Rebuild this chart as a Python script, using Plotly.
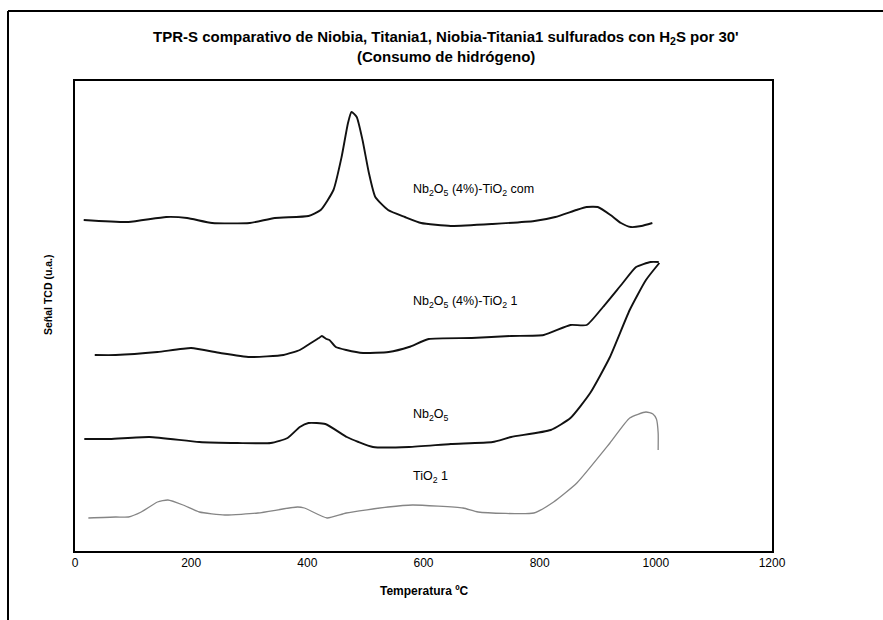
import plotly.graph_objects as go

# Temperature (°C) and TCD signal (a.u.) for each sulfided sample
com_T = [15, 92, 157, 193, 236, 301, 344, 402, 423, 445, 459, 470, 476, 485, 495, 506, 517, 539,
         568, 596, 647, 719, 791, 827, 863, 881, 900, 922, 940, 957, 975, 994]
com_S = [331, 329, 334, 333, 328, 328, 333, 335, 341, 361, 394, 428, 439, 434, 411, 378, 354, 341,
         334, 328, 325, 327, 330, 334, 341, 344, 344, 336, 328, 324, 325, 328]

nt1_T = [34, 70, 142, 200, 250, 301, 359, 387, 409, 420, 425, 433, 438, 449, 467, 496, 540, 575,
         609, 683, 751, 807, 853, 881, 909, 943, 966, 991, 1005]
nt1_S = [196, 196, 199, 203, 198, 194, 196, 201, 209, 213, 215, 212, 211, 204, 201, 198, 199, 204,
         212, 213, 215, 216, 226, 226, 244, 268, 284, 289, 289]

nb_T = [16, 60, 128, 214, 280, 337, 366, 387, 402, 431, 468, 488, 513, 575, 647, 719, 751, 819,
        853, 887, 921, 955, 983, 1006]
nb_S = [112, 112, 114, 109, 108, 108, 113, 124, 128, 127, 114, 109, 104, 104, 107, 109, 114, 121,
        133, 158, 194, 241, 271, 288]

ti_T = [23, 70, 92, 114, 142, 160, 186, 214, 258, 315, 383, 395, 434, 467, 539, 581, 668, 694,
        790, 824, 864, 921, 955, 983, 995, 1001, 1004, 1004]
ti_S = [33, 34, 34, 39, 49, 51, 46, 39, 36, 38, 44, 43, 33, 38, 44, 46, 43, 39,
        38, 49, 68, 108, 133, 139, 137, 132, 118, 101]

x_ticks = [0, 200, 400, 600, 800, 1000, 1200]

# Curve labels: text, temperature where the text starts, signal level
labels = [
    ("Nb<sub>2</sub>O<sub>5</sub> (4%)-TiO<sub>2</sub> com", 578, 361),
    ("Nb<sub>2</sub>O<sub>5</sub> (4%)-TiO<sub>2</sub> 1", 578, 249),
    ("Nb<sub>2</sub>O<sub>5</sub>", 578, 136),
    ("TiO<sub>2</sub> 1", 578, 74),
]

FONT = "Liberation Sans, Arial, sans-serif"
W, H = 883, 620
L, R, T, B = 75, 111, 81, 69
PW, PH = W - L - R, H - T - B


def px(x):
    return (x - L) / PW


def py(y):
    return (H - B - y) / PH


fig = go.Figure()
for Tv, Sv, color, w in [
    (com_T, com_S, "#111111", 1.9),
    (nt1_T, nt1_S, "#111111", 1.9),
    (nb_T, nb_S, "#111111", 1.9),
    (ti_T, ti_S, "#858585", 1.3),
]:
    fig.add_trace(go.Scatter(x=Tv, y=Sv, mode="lines",
                             line=dict(color=color, width=w, shape="spline", smoothing=0.5),
                             hoverinfo="skip", showlegend=False))

annotations = [
    dict(text="<b>TPR-S comparativo de Niobia, Titania1, Niobia-Titania1 sulfurados con H<sub>2</sub>S por 30'</b>",
         x=px(446), y=py(38), font=dict(family=FONT, size=15, color="black")),
    dict(text="<b>(Consumo de hidrógeno)</b>",
         x=px(446), y=py(56), font=dict(family=FONT, size=15, color="black")),
    dict(text="<b>Temperatura ºC</b>", x=px(424), y=py(591),
         font=dict(family=FONT, size=12, color="black")),
    dict(text="<b>Señal TCD (u.a.)</b>", x=px(48), y=py(295), textangle=-90,
         font=dict(family=FONT, size=10.5, color="black")),
]
for a in annotations:
    a.update(xref="paper", yref="paper", showarrow=False, xanchor="center", yanchor="middle")

for text, tx, ty in labels:
    annotations.append(dict(text=text, x=tx, y=ty, xref="x", yref="y", showarrow=False,
                            xanchor="left", yanchor="middle",
                            font=dict(family=FONT, size=12.5, color="black")))

fig.update_layout(
    width=W, height=H,
    margin=dict(l=L, r=R, t=T, b=B),
    paper_bgcolor="white", plot_bgcolor="white",
    annotations=annotations,
    shapes=[
        dict(type="line", xref="paper", yref="paper", x0=px(8), x1=px(8), y0=py(H), y1=py(11),
             line=dict(color="black", width=2)),
        dict(type="line", xref="paper", yref="paper", x0=px(8), x1=px(W), y0=py(11), y1=py(11),
             line=dict(color="black", width=2)),
    ],
)
fig.update_xaxes(range=[0, 1200], tickvals=x_ticks, ticktext=[str(v) for v in x_ticks],
                 showgrid=False, zeroline=False, showline=True, linecolor="black", linewidth=2,
                 mirror=True, ticks="", tickfont=dict(family=FONT, size=12, color="black"))
fig.update_yaxes(range=[0, 470], showticklabels=False, showgrid=False, zeroline=False,
                 showline=True, linecolor="black", linewidth=2, mirror=True, ticks="")

fig.write_html("out.html")
